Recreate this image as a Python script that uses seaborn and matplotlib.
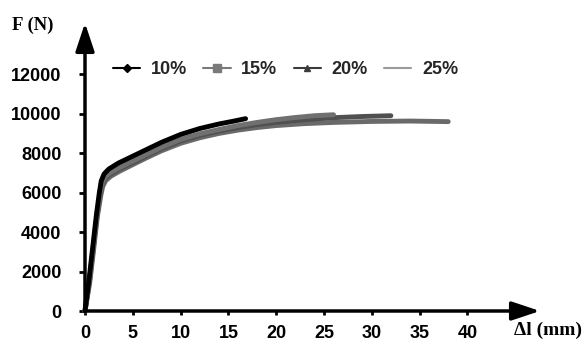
import matplotlib
matplotlib.use("Agg")
import matplotlib.pyplot as plt
from matplotlib.lines import Line2D
import pandas as pd
import seaborn as sns

# Force-elongation curves (F in N, elongation in mm) for four series
series_names = ["10%", "15%", "20%", "25%"]

dl_10 = [0, 0.4, 0.8, 1.2, 1.5, 1.7, 2.0, 2.5, 3.5, 5, 6.5, 8, 10, 12, 14, 15.5, 16.8]
f_10 = [0, 1500, 3200, 4900, 6000, 6600, 6950, 7200, 7500, 7850, 8200, 8550, 8950, 9250, 9480, 9620, 9750]

dl_15 = [0, 0.45, 0.85, 1.25, 1.6, 1.8, 2.1, 2.6, 3.5, 5, 6.5, 8, 10, 12, 14, 16, 18, 20, 22, 24, 26]
f_15 = [0, 1500, 3200, 4900, 6000, 6500, 6800, 7000, 7250, 7600, 7950, 8300, 8700, 8980, 9200, 9400, 9560, 9700, 9810, 9900, 9950]

dl_20 = [0, 0.45, 0.85, 1.25, 1.6, 1.8, 2.1, 2.6, 3.5, 5, 6.5, 8, 10, 12, 14, 16, 18, 20, 23, 26, 29, 32]
f_20 = [0, 1450, 3100, 4800, 5900, 6400, 6700, 6920, 7180, 7520, 7880, 8230, 8620, 8900, 9120, 9300, 9450, 9560, 9700, 9800, 9860, 9900]

dl_25 = [0, 0.5, 0.9, 1.3, 1.65, 1.85, 2.15, 2.7, 3.6, 5, 6.5, 8, 10, 12, 14, 16, 18, 20, 23, 26, 30, 34, 38]
f_25 = [0, 1450, 3100, 4800, 5850, 6300, 6600, 6830, 7080, 7420, 7780, 8120, 8500, 8780, 9000, 9170, 9300, 9400, 9500, 9560, 9610, 9630, 9600]

x_ticks = [0, 5, 10, 15, 20, 25, 30, 35, 40]
y_ticks = [0, 2000, 4000, 6000, 8000, 10000, 12000]

colors = {"10%": "#000000", "15%": "#7a7a7a", "20%": "#3c3c3c", "25%": "#9a9a9a"}
markers = {"10%": "D", "15%": "s", "20%": "^", "25%": ""}
msizes = {"10%": 4, "15%": 6, "20%": 4, "25%": 0}
curve_colors = {"10%": "#000000", "15%": "#707070", "20%": "#505050", "25%": "#6a6a6a"}

frames = []
for name, xs, ys in zip(series_names, [dl_10, dl_15, dl_20, dl_25], [f_10, f_15, f_20, f_25]):
    frames.append(pd.DataFrame({"dl": xs, "F": ys, "series": name}))
df = pd.concat(frames, ignore_index=True)

sns.set_theme(style="white")
plt.rcParams["font.family"] = ["Liberation Sans", "DejaVu Sans"]

fig = plt.figure(figsize=(5.84, 3.44), dpi=100)
ax = fig.add_axes([85 / 584, 1 - 311 / 344, 455 / 584, 288 / 344])

# Draw later series first so the 10% curve sits on top
for name in ["25%", "20%", "15%", "10%"]:
    sub = df[df["series"] == name]
    sns.lineplot(data=sub, x="dl", y="F", ax=ax, color=curve_colors[name],
                 linewidth=3.5, legend=False, sort=False, estimator=None,
                 clip_on=False, solid_joinstyle="round")

ax.set_xlim(0, 47.6)
ax.set_ylim(0, 14600)
ax.set_xticks(x_ticks)
ax.set_yticks(y_ticks)
ax.set_xticklabels([str(v) for v in x_ticks], fontsize=13, fontweight="bold")
ax.set_yticklabels([str(v) for v in y_ticks], fontsize=13, fontweight="bold")
ax.tick_params(axis="y", direction="out", length=4, width=2, pad=13, colors="black", left=True)
ax.tick_params(axis="x", direction="out", length=3, width=2, pad=7, colors="black", bottom=True)
ax.set_xlabel("")
ax.set_ylabel("")
for sp in ax.spines.values():
    sp.set_visible(False)

# Axis lines with arrow heads
arrow_kw = dict(arrowstyle="-|>,head_length=0.78,head_width=0.26", lw=2.5, color="black",
                mutation_scale=22, shrinkA=0, shrinkB=0)
ax.annotate("", xy=(1, 0), xytext=(0, 0), xycoords="axes fraction",
            textcoords="axes fraction", arrowprops=arrow_kw, annotation_clip=False)
ax.annotate("", xy=(0, 1), xytext=(0, 0), xycoords="axes fraction",
            textcoords="axes fraction", arrowprops=arrow_kw, annotation_clip=False)

# Axis titles
fig.text(12 / 584, 1 - 25 / 344, "F (N)", family=["Liberation Serif", "DejaVu Serif"],
         fontweight="bold", fontsize=13.5, va="center", ha="left", color="black")
fig.text(582 / 584, 1 - 330 / 344, "\u0394l (mm)", family=["Liberation Serif", "DejaVu Serif"],
         fontweight="bold", fontsize=14, va="center", ha="right", color="black")

# Legend
handles = [Line2D([0], [0], color=colors[n], lw=1.5, marker=markers[n] or None,
                  markersize=msizes[n]) for n in series_names]
leg = fig.legend(handles, series_names, loc="center left",
                 bbox_to_anchor=(113 / 584, 1 - 70 / 344), bbox_transform=fig.transFigure,
                 ncol=4, frameon=False, handlelength=1.5, handletextpad=0.6,
                 columnspacing=0.9, borderpad=0, borderaxespad=0,
                 prop={"weight": "bold", "size": 13})

fig.savefig("out.png", dpi=100)
